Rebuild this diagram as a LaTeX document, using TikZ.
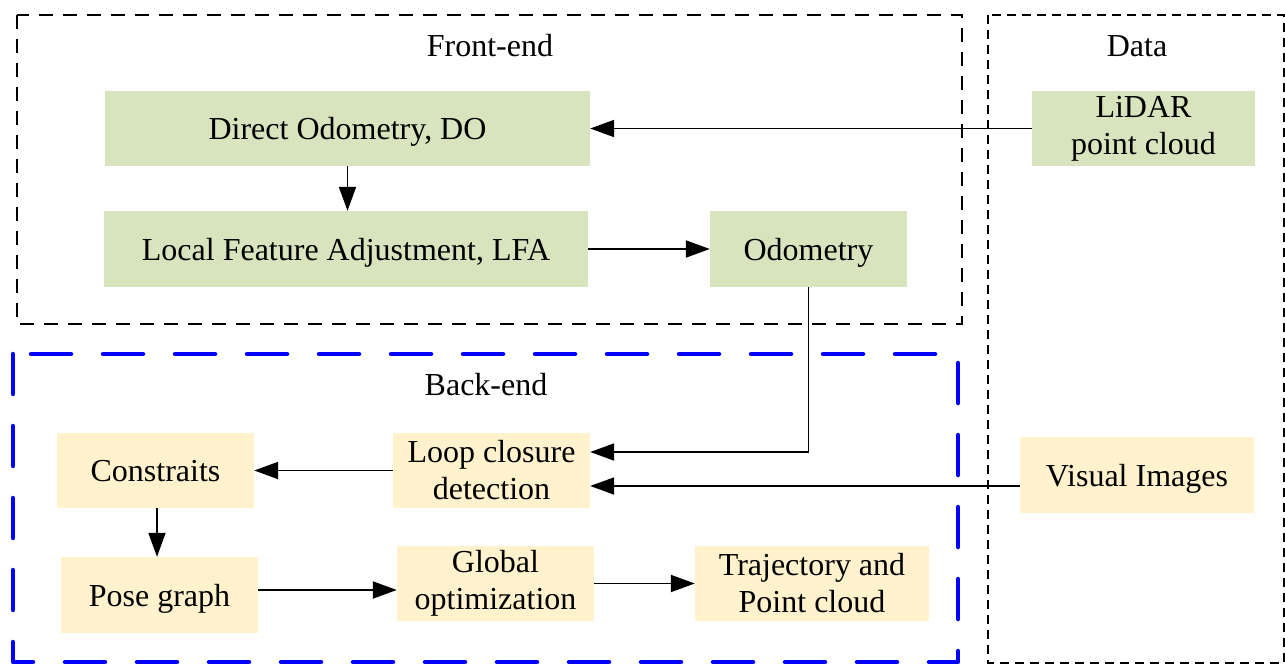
\documentclass[tikz,border=0pt]{standalone}
\usepackage{fontspec}
\setmainfont{Liberation Serif}
\usetikzlibrary{arrows.meta}
\definecolor{boxgreen}{HTML}{D7E4BD}
\definecolor{boxyellow}{HTML}{FFF2CC}
\tikzset{
  gbox/.style={fill=boxgreen, inner sep=0pt, align=center, font=\fontsize{32}{37}\selectfont},
  ybox/.style={fill=boxyellow, inner sep=0pt, align=center, font=\fontsize{32}{37}\selectfont},
  oneline/.style={text height=28pt, text depth=6pt},
  lbl/.style={inner sep=0pt, font=\fontsize{32}{37}\selectfont},
  arr/.style={-{Triangle[length=24pt,width=17pt]}, line width=1.9pt, black},
  fdash/.style={draw=black, line width=1.3pt, dash pattern=on 14pt off 10pt},
  ddash/.style={draw=black, line width=1.2pt, dash pattern=on 9pt off 6pt},
  bdash/.style={draw=blue, line width=4.5pt, dash pattern=on 40pt off 32pt, line cap=round, line join=round}
}
\begin{document}
\begin{tikzpicture}[x=1pt,y=-1pt]
\useasboundingbox (0,0) rectangle (1285,664);
% nodes
\node[gbox, oneline, minimum width=485pt, minimum height=75pt] (do) at (347.5,128.5) {Direct Odometry, DO};
\node[gbox, oneline, minimum width=484pt, minimum height=76pt] (lfa) at (346,249) {Local Feature Adjustment, LFA};
\node[gbox, oneline, minimum width=197pt, minimum height=76pt] (odo) at (808.5,249) {Odometry};
\node[gbox, minimum width=223pt, minimum height=75pt] (lidar) at (1143.5,128.5) {LiDAR\\point cloud};
\node[ybox, oneline, minimum width=197pt, minimum height=75pt] (con) at (155.5,470.5) {Constraits};
\node[ybox, minimum width=197pt, minimum height=75pt] (loop) at (491.5,470.5) {Loop closure\\detection};
\node[ybox, oneline, minimum width=234pt, minimum height=76pt] (vis) at (1137,475) {Visual Images};
\node[ybox, oneline, minimum width=197pt, minimum height=76pt] (pose) at (159.5,595) {Pose graph};
\node[ybox, minimum width=197pt, minimum height=75pt] (glob) at (495.5,583.5) {Global\\optimization};
\node[ybox, minimum width=234pt, minimum height=75pt] (traj) at (812,583.5) {Trajectory and\\Point cloud};
% labels
\node[lbl] (fe) at (490,46) {Front-end};
\node[lbl] (da) at (1137,46) {Data};
\node[lbl] (be) at (486,385) {Back-end};
% connectors
\draw[arr] (lidar.west) -- (do.east);
\draw[arr] (do.south) -- (do.south |- lfa.north);
\draw[arr] (lfa.east) -- (odo.west);
\coordinate (loopin1) at ([yshift=18.5pt]loop.east);
\coordinate (loopin2) at ([yshift=-15.5pt]loop.east);
\draw[arr] (odo.south) |- (loopin1);
\draw[arr] (vis.west |- loopin2) -- (loopin2);
\draw[arr] (loop.west) -- (loop.west -| con.east);
\draw[arr] ([xshift=1.5pt]con.south) -- ([xshift=1.5pt]con.south |- pose.north);
\coordinate (globin) at ([yshift=-6.5pt]glob.west);
\draw[arr] (pose.east |- globin) -- (globin);
\draw[arr] (glob.east) -- (glob.east -| traj.west);
% group boxes
\draw[fdash] (17,15) rectangle (962,324);
\draw[ddash] (988,15) rectangle (1284,663);
\draw[bdash] (13,354) rectangle (958,662);
\end{tikzpicture}
\end{document}
